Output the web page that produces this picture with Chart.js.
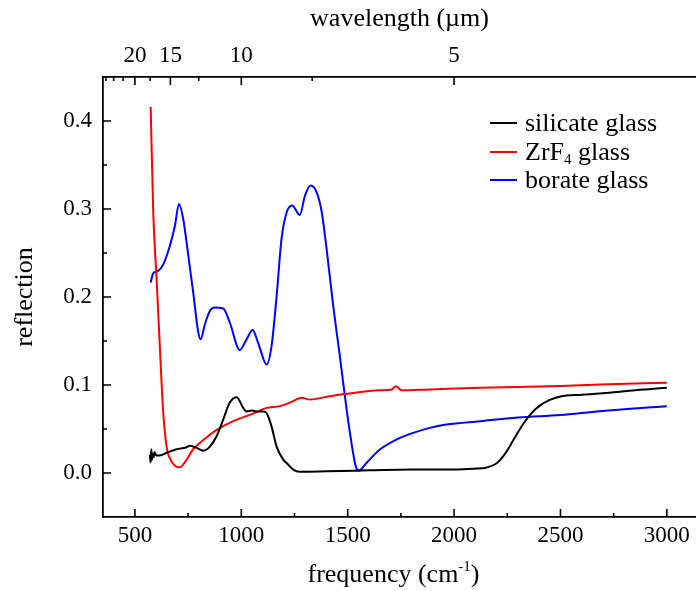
<!DOCTYPE html>
<html><head><meta charset="utf-8">
<script src="https://cdn.jsdelivr.net/npm/chart.js@4"></script>
<style>html,body{margin:0;padding:0;background:#fff;overflow:hidden}canvas{display:block}</style>
</head><body><canvas id="c" width="696" height="591"></canvas>
<script>
// ---- data ----
const silicateX=[570,574,577,580,584,588,592,600,617,649,696,740,758,790,821,852,884,915,946,978,1009,1024,1050,1072,1103,1119,1142,1166,1197,1213,1244,1275,1400,1600,1800,2000,2100,2150,2200,2240,2280,2320,2360,2400,2450,2500,2600,2685,2800,2900,3000];
const silicateY=[0.021,0.012,0.027,0.015,0.022,0.018,0.024,0.020,0.020,0.023,0.027,0.029,0.031,0.0285,0.0254,0.030,0.0418,0.0608,0.080,0.0862,0.074,0.070,0.071,0.070,0.070,0.068,0.053,0.030,0.0152,0.0114,0.0038,0.0015,0.002,0.003,0.004,0.004,0.005,0.006,0.011,0.022,0.038,0.054,0.067,0.076,0.083,0.087,0.089,0.0904,0.093,0.095,0.0969];
const zrf4X=[574,586,602,617,633,649,670,690,711,740,774,805,845,884,962,1040,1119,1181,1244,1283,1322,1416,1495,1651,1704,1727,1753,1886,2121,2500,2685,3000];
const zrf4Y=[0.416,0.297,0.220,0.144,0.069,0.030,0.014,0.008,0.0064,0.014,0.027,0.034,0.042,0.049,0.059,0.066,0.074,0.076,0.0816,0.0855,0.0835,0.0873,0.090,0.094,0.0945,0.0987,0.094,0.095,0.0968,0.099,0.1006,0.1026];
const borateX=[574,586,609,633,664,688,707,727,751,774,798,809,829,852,875,915,946,993,1025,1053,1079,1119,1142,1166,1189,1213,1239,1275,1299,1326,1354,1377,1401,1432,1463,1495,1518,1538,1553,1588,1651,1729,1808,1886,1964,2121,2300,2500,2685,3000];
const borateY=[0.2165,0.2268,0.2297,0.237,0.258,0.281,0.3058,0.2887,0.247,0.205,0.1595,0.152,0.169,0.184,0.188,0.187,0.171,0.1397,0.152,0.1625,0.148,0.1234,0.144,0.201,0.266,0.296,0.304,0.2932,0.315,0.3266,0.319,0.298,0.2545,0.190,0.133,0.072,0.034,0.0075,0.0026,0.0114,0.0266,0.038,0.0456,0.0513,0.055,0.0588,0.063,0.066,0.0702,0.0759];
const seriesNames=['silicate glass','ZrF4 glass','borate glass'];
const freqTicks=[500,1000,1500,2000,2500,3000];
const freqMinor=[750,1250,1750,2250,2750];
const reflTicks=[0.0,0.1,0.2,0.3,0.4];
const reflMinor=[0.05,0.15,0.25,0.35];
const wlTicks=[20,15,10,5];
const wlMinor=[27.5,25,22.5,17.5,12.5,7.5];

const SERIF='"Liberation Serif","Times New Roman",serif';
const toPts=(xs,ys)=>xs.map((x,i)=>({x:x,y:ys[i]}));

const tickPlugin={
  id:'inwardTicks',
  afterDraw(chart){
    const ctx=chart.ctx, ca=chart.chartArea;
    const xs=chart.scales.x, ys=chart.scales.y, x2=chart.scales.x2;
    ctx.save();ctx.strokeStyle='#000';ctx.lineWidth=1.6;
    const big=8, small=4;
    ctx.beginPath();
    freqTicks.forEach(v=>{const p=xs.getPixelForValue(v);ctx.moveTo(p,ca.bottom);ctx.lineTo(p,ca.bottom-big);});
    freqMinor.forEach(v=>{const p=xs.getPixelForValue(v);ctx.moveTo(p,ca.bottom);ctx.lineTo(p,ca.bottom-small);});
    wlTicks.forEach(w=>{const p=x2.getPixelForValue(10000/w);ctx.moveTo(p,ca.top);ctx.lineTo(p,ca.top+big);});
    wlMinor.forEach(w=>{const p=x2.getPixelForValue(10000/w);ctx.moveTo(p,ca.top);ctx.lineTo(p,ca.top+small);});
    reflTicks.forEach(v=>{const p=ys.getPixelForValue(v);ctx.moveTo(ca.left,p);ctx.lineTo(ca.left+big,p);});
    reflMinor.forEach(v=>{const p=ys.getPixelForValue(v);ctx.moveTo(ca.left,p);ctx.lineTo(ca.left+small,p);});
    ctx.stroke();
    // bottom axis title with superscript
    ctx.fillStyle='#000';ctx.textBaseline='alphabetic';
    const f1='26px '+SERIF, f2='15px '+SERIF;
    ctx.font=f1;const a='frequency (cm', c=')';
    const wa=ctx.measureText(a).width, wc=ctx.measureText(c).width;
    ctx.font=f2;const b='-1';const wb=ctx.measureText(b).width;
    const total=wa+wb+wc;const cx=(ca.left+ca.right)/2-6;let sx=cx-total/2;const by=582;
    ctx.font=f1;ctx.fillText(a,sx,by);
    ctx.font=f2;ctx.fillText(b,sx+wa,by-11);
    ctx.font=f1;ctx.fillText(c,sx+wa+wb,by);
    // legend
    const lx0=490,lx1=517,tx=525,rows=[123,152,180];
    chart.data.datasets.forEach((ds,i)=>{
      const y=rows[i];
      ctx.strokeStyle=ds.borderColor;ctx.lineWidth=2;
      ctx.beginPath();ctx.moveTo(lx0,y);ctx.lineTo(lx1,y);ctx.stroke();
      ctx.fillStyle='#000';ctx.font=f1;
      const name=seriesNames[i];
      if(name.indexOf('ZrF4')===0){
        ctx.fillText('ZrF',tx,y+8);const w1=ctx.measureText('ZrF').width;
        ctx.font=f2;ctx.fillText('4',tx+w1,y+12);const w2=ctx.measureText('4').width;
        ctx.font=f1;ctx.fillText(name.slice(4),tx+w1+w2,y+8);
      } else ctx.fillText(name,tx,y+8);
    });
    ctx.restore();
  }
};

const XMIN=350, XMAX=3137;
new Chart(document.getElementById('c'),{
  type:'line',
  data:{datasets:[
    {label:seriesNames[0],data:toPts(silicateX,silicateY),borderColor:'#000000'},
    {label:seriesNames[1],data:toPts(zrf4X,zrf4Y),borderColor:'#ff0000'},
    {label:seriesNames[2],data:toPts(borateX,borateY),borderColor:'#0000ff'}
  ]},
  options:{
    responsive:false,animation:false,
    layout:{padding:{left:0,right:0,top:0,bottom:0}},
    datasets:{line:{borderWidth:2,pointRadius:0,fill:false,cubicInterpolationMode:'monotone'}},
    plugins:{legend:{display:false},tooltip:{enabled:false}},
    scales:{
      x:{type:'linear',position:'bottom',min:XMIN,max:XMAX,
        afterBuildTicks:s=>{s.ticks=freqTicks.map(v=>({value:v}));},
        afterFit:s=>{s.height=74;},
        ticks:{color:'#000',font:{family:SERIF,size:23},padding:5,maxRotation:0,autoSkip:false,callback:v=>String(v)},
        grid:{display:true,drawOnChartArea:false,drawTicks:false},
        border:{display:true,color:'#000',width:1.8},
        title:{display:false}
      },
      x2:{type:'linear',position:'top',min:XMIN,max:XMAX,
        afterBuildTicks:s=>{s.ticks=wlTicks.map(w=>({value:10000/w}));},
        afterFit:s=>{s.height=77;},
        ticks:{color:'#000',font:{family:SERIF,size:23},padding:7,maxRotation:0,autoSkip:false,callback:v=>String(Math.round(10000/v))},
        grid:{display:true,drawOnChartArea:false,drawTicks:false},
        border:{display:true,color:'#000',width:1.8},
        title:{display:true,text:'wavelength (\u00b5m)',color:'#000',font:{family:SERIF,size:26},padding:{top:4,bottom:0}}
      },
      y:{type:'linear',position:'left',min:-0.05,max:0.45,
        afterBuildTicks:s=>{s.ticks=reflTicks.map(v=>({value:v}));},
        afterFit:s=>{s.width=103;},
        ticks:{color:'#000',font:{family:SERIF,size:23},padding:11,callback:v=>v.toFixed(1)},
        grid:{display:true,drawOnChartArea:false,drawTicks:false},
        border:{display:true,color:'#000',width:1.8},
        title:{display:true,text:'reflection',color:'#000',font:{family:SERIF,size:26},padding:{top:10,bottom:0}}
      }
    }
  },
  plugins:[tickPlugin]
});
</script></body></html>
